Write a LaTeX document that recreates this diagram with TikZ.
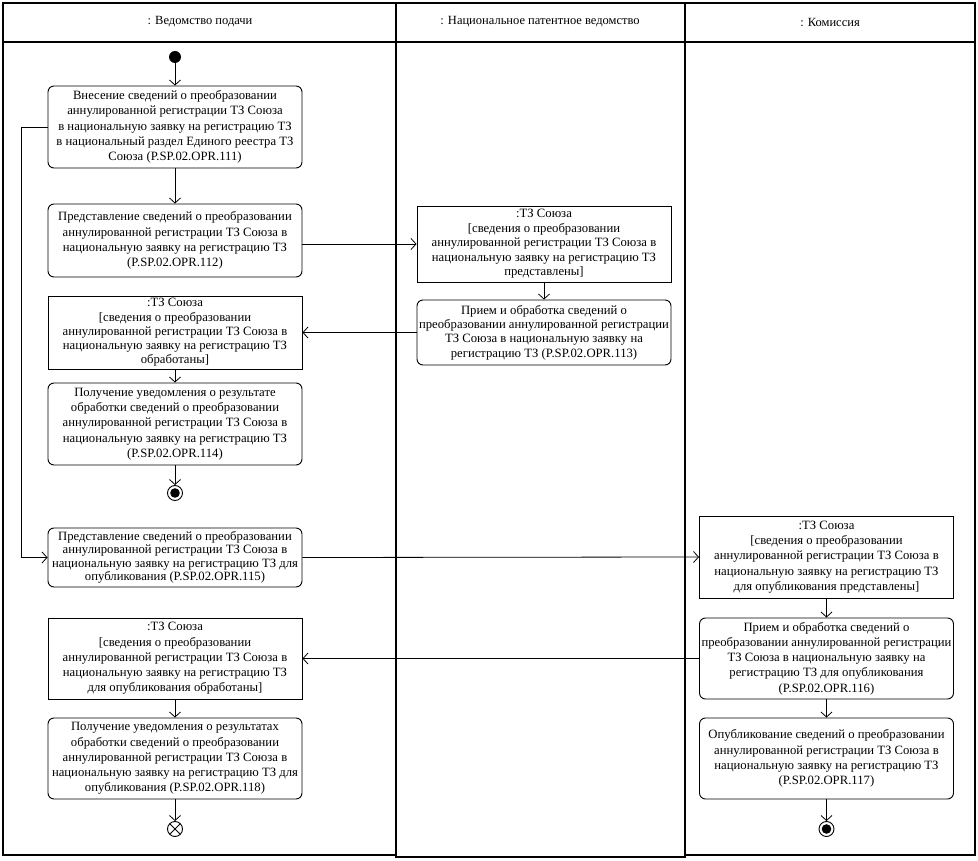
\documentclass[tikz,border=0pt]{standalone}
\usepackage{fontspec}
\setmainfont{Liberation Serif}
\usetikzlibrary{positioning,arrows.meta}

\begin{document}
\begin{tikzpicture}[x=1pt, y=-1pt,
        font=\fontsize{12.7}{15.2}\selectfont,
        act/.style={draw, rounded corners=6pt, align=center,
                    minimum width=254pt, inner sep=1pt, line width=0.9pt},
        obj/.style={draw, align=center,
                    minimum width=254pt, inner sep=1pt, line width=0.9pt},
        arr/.style={-{Straight Barb[length=5pt,width=11pt]}, line width=0.8pt},
        lane/.style={draw, line width=1.3pt},
        hdr/.style={font=\fontsize{12.5}{14}\selectfont},
        startnode/.style={circle, fill, minimum size=12pt, inner sep=0pt},
        endnode/.style={circle, draw, line width=0.9pt, minimum size=15pt,
                        inner sep=0pt, path picture={\fill (path picture bounding box.center) circle (4.8pt);}},
        flowend/.style={circle, draw, line width=0.9pt, minimum size=15pt,
                        inner sep=0pt, path picture={
                          \draw (path picture bounding box.south west) -- (path picture bounding box.north east)
                                (path picture bounding box.north west) -- (path picture bounding box.south east);}}
    ]
        \useasboundingbox (0,0) rectangle (978,861);

        % swimlanes
        \draw[lane] (3,3) rectangle (396,855);
        \draw[lane] (396,3) rectangle (685,857);
        \draw[lane] (685,3) rectangle (975,855);
        \draw[lane, line width=1.9pt] (685,3) -- (685,857);
        \draw[lane] (3,42) -- (975,42);
        \node[hdr] (h1) at (200,22) {: Ведомство подачи};
        \node[hdr] (h2) at (540,22) {: Национальное патентное ведомство};
        \node[hdr] (h3) at (830,22) {: Комиссия};

        % lane 1
        \node[startnode] (start) at (175,57) {};
        \node[act, minimum height=82pt] (a1) at (175,127)
            {Внесение сведений о преобразовании\\ аннулированной регистрации ТЗ Союза\\
             в национальную заявку на регистрацию ТЗ\\ в национальный раздел Единого реестра ТЗ\\
             Союза (P.SP.02.OPR.111)};
        \node[act, minimum height=73pt] (a2) at (175,240.5)
            {Представление сведений о преобразовании\\ аннулированной регистрации ТЗ Союза в\\
             национальную заявку на регистрацию ТЗ\\ (P.SP.02.OPR.112)};
        \node[obj, minimum height=73pt, font=\fontsize{12.7}{14.2}\selectfont] (o2) at (175,332.5)
            {:ТЗ Союза\\ {[}сведения о преобразовании\\ аннулированной регистрации ТЗ Союза в\\
             национальную заявку на регистрацию ТЗ\\ обработаны{]}};
        \node[act, minimum height=82pt] (a4) at (175,424)
            {Получение уведомления о результате\\ обработки сведений о преобразовании\\
             аннулированной регистрации ТЗ Союза в\\ национальную заявку на регистрацию ТЗ\\
             (P.SP.02.OPR.114)};
        \node[endnode] (end1) at (175,493) {};
        \node[act, minimum height=59pt, font=\fontsize{12.7}{13.4}\selectfont] (a5) at (175,557.5)
            {Представление сведений о преобразовании\\ аннулированной регистрации ТЗ Союза в\\
             национальную заявку на регистрацию ТЗ для\\ опубликования (P.SP.02.OPR.115)};
        \node[obj, minimum height=81pt] (o4) at (175,658.5)
            {:ТЗ Союза\\ {[}сведения о преобразовании\\ аннулированной регистрации ТЗ Союза в\\
             национальную заявку на регистрацию ТЗ\\ для опубликования обработаны{]}};
        \node[act, minimum height=81pt] (a7) at (175,758.5)
            {Получение уведомления о результатах\\ обработки сведений о преобразовании\\
             аннулированной регистрации ТЗ Союза в\\ национальную заявку на регистрацию ТЗ для\\
             опубликования (P.SP.02.OPR.118)};
        \node[flowend] (fin) at (175,829) {};

        % lane 2
        \node[obj, minimum height=76pt, font=\fontsize{12.7}{14.5}\selectfont] (o1) at (544,244)
            {:ТЗ Союза\\ {[}сведения о преобразовании\\ аннулированной регистрации ТЗ Союза в\\
             национальную заявку на регистрацию ТЗ\\ представлены{]}};
        \node[act, minimum height=65pt, font=\fontsize{12.7}{14.4}\selectfont] (a3) at (544,332.5)
            {Прием и обработка сведений о\\ преобразовании аннулированной регистрации\\
             ТЗ Союза в национальную заявку на\\ регистрацию ТЗ (P.SP.02.OPR.113)};

        % lane 3
        \node[obj, minimum height=82pt] (o3) at (826.5,557)
            {:ТЗ Союза\\ {[}сведения о преобразовании\\ аннулированной регистрации ТЗ Союза в\\
             национальную заявку на регистрацию ТЗ\\ для опубликования представлены{]}};
        \node[act, minimum height=81pt] (a6) at (826.5,658.5)
            {Прием и обработка сведений о\\ преобразовании аннулированной регистрации\\
             ТЗ Союза в национальную заявку на\\ регистрацию ТЗ для опубликования\\
             (P.SP.02.OPR.116)};
        \node[act, minimum height=81pt] (a8) at (826.5,758.5)
            {Опубликование сведений о преобразовании\\ аннулированной регистрации ТЗ Союза в\\
             национальную заявку на регистрацию ТЗ\\ (P.SP.02.OPR.117)};
        \node[endnode] (end2) at (826.5,829) {};

        % flows
        \draw[arr] (start) -- (a1);
        \draw[arr] (a1) -- (a2);
        \draw[arr] (a1.west) -- ++(-26,0) |- (a5.west);
        \draw[arr] (a2.east |- o1.west) -- (o1.west);
        \draw[arr] (o1) -- (a3);
        \draw[arr] (a3.west) -- (o2.east);
        \draw[arr] (o2) -- (a4);
        \draw[arr] (a4) -- (end1);
        \draw[arr] (a5.east) -- (o3.west);
        \draw[arr] (o3) -- (a6);
        \draw[arr] (a6.west) -- (o4.east);
        \draw[arr] (o4) -- (a7);
        \draw[arr] (a7) -- (fin);
        \draw[arr] (a6) -- (a8);
        \draw[arr] (a8) -- (end2);
    \end{tikzpicture}
\end{document}
